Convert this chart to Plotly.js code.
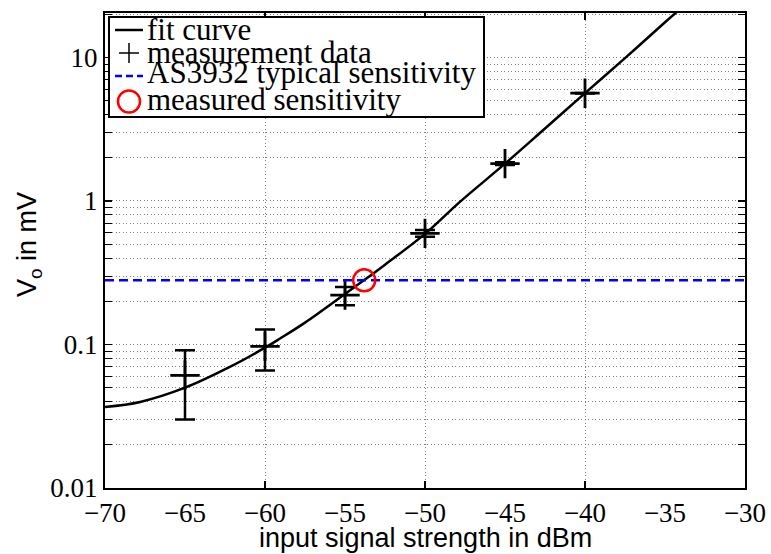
<!DOCTYPE html>
<html>
<head>
<meta charset="utf-8">
<script src="https://cdn.plot.ly/plotly-3.0.1.min.js"></script>
<style>html,body{margin:0;padding:0;background:#fff;}#chart{width:771px;height:554px;}</style>
</head>
<body>
<div id="chart"></div>
<script>
// ---- data ----
const fitX = [-70, -67.8, -65, -62.2, -60, -59.06, -57.5, -55, -53.8, -52.5, -50, -47.8, -45, -42.5, -40, -37.5, -35, -34];
const fitY = [0.0367, 0.0398, 0.050, 0.0698, 0.095, 0.110, 0.142, 0.225, 0.281, 0.36, 0.59, 0.99, 1.82, 3.2, 5.64, 9.9, 17.6, 22];

const measX  = [-65, -60, -55, -50, -45, -40];
const measY  = [0.061, 0.097, 0.221, 0.595, 1.82, 5.64];
const measHi = [0.091, 0.127, 0.252, 0.628, 1.86, 5.66];
const measLo = [0.030, 0.066, 0.188, 0.563, 1.78, 5.62];

const typicalSens = 0.28;
const typicalX = [-70, -30];
const sensX = [-53.8];
const sensY = [0.28];

const xLabelVals = [-70, -65, -60, -55, -50, -45, -40, -35, -30];
const xGridVals = [-70, -60, -50, -40, -30];
const yTickVals = [0.01, 0.1, 1, 10];
const yTickText = ['0.01', '0.1', '1', '10'];

const legendLabels = ['fit curve', 'measurement data', 'AS3932 typical sensitivity', 'measured sensitivity'];

// ---- helpers (layout only) ----
const L = 105, R = 745, T = 13, B = 488;
const W = 771, H = 554;
const px = x => (x - L) / (R - L);
const py = y => (B - y) / (B - T);

const yMinor = [];
[0.01, 0.1, 1, 10].forEach(d => { for (let k = 2; k <= 9; k++) yMinor.push(d * k); });

const traces = [
  { x: fitX, y: fitY, type: 'scatter', mode: 'lines', line: { color: '#000', width: 2.5, shape: 'spline', smoothing: 1 }, hoverinfo: 'skip', xaxis: 'x', yaxis: 'y' },
  { x: measX, y: measY, type: 'scatter', mode: 'markers',
    marker: { symbol: 'cross-thin', size: 21, color: '#000', line: { color: '#000', width: 2.8 } },
    error_y: { type: 'data', symmetric: false,
      array: measHi.map((v, i) => v - measY[i]),
      arrayminus: measLo.map((v, i) => measY[i] - v),
      color: '#000', thickness: 2.5, width: 10 },
    xaxis: 'x', yaxis: 'y' },
  { x: typicalX, y: typicalX.map(() => typicalSens), type: 'scatter', mode: 'lines',
    line: { color: '#0000ff', width: 2.5, dash: '9px,5px' }, xaxis: 'x2', yaxis: 'y' },
  { x: sensX, y: sensY, type: 'scatter', mode: 'markers',
    marker: { symbol: 'circle-open', size: 22, color: '#ff0000', line: { color: '#ff0000', width: 2.5 } },
    xaxis: 'x2', yaxis: 'y' }
];

const serif = 'Liberation Serif, DejaVu Serif, serif';
const sans = 'Liberation Sans, Arial, sans-serif';

const shapes = [
  { type: 'rect', xref: 'paper', yref: 'paper', x0: px(109), x1: px(484), y0: py(117), y1: py(17),
    fillcolor: '#fff', line: { color: '#000', width: 2 }, layer: 'above' },
  { type: 'line', xref: 'paper', yref: 'paper', x0: px(115), x1: px(143), y0: py(30), y1: py(30),
    line: { color: '#000', width: 2.5 }, layer: 'above' },
  { type: 'line', xref: 'paper', yref: 'paper', x0: px(119), x1: px(139), y0: py(53), y1: py(53),
    line: { color: '#000', width: 1.5 }, layer: 'above' },
  { type: 'line', xref: 'paper', yref: 'paper', x0: px(129), x1: px(129), y0: py(43), y1: py(63),
    line: { color: '#000', width: 1.5 }, layer: 'above' },
  { type: 'line', xref: 'paper', yref: 'paper', x0: px(115), x1: px(143), y0: py(76), y1: py(76),
    line: { color: '#0000ff', width: 2.5, dash: '7px,4px' }, layer: 'above' },
  { type: 'circle', xref: 'paper', yref: 'paper', x0: px(118), x1: px(140), y0: py(112.5), y1: py(90.5),
    line: { color: '#ff0000', width: 2.5 }, layer: 'above' }
];

const rowY = [30, 52, 73, 99];
const annotations = legendLabels.map((t, i) => ({
  text: t, xref: 'paper', yref: 'paper', x: px(145), y: py(rowY[i]),
  xanchor: 'left', yanchor: 'middle', showarrow: false,
  font: { family: serif, size: 31, color: '#000' }
}));
annotations.push({
  text: 'input signal strength in dBm', xref: 'paper', yref: 'paper',
  x: px(425), y: py(538), xanchor: 'center', yanchor: 'middle', showarrow: false,
  font: { family: sans, size: 27, color: '#000' }
});
annotations.push({
  text: 'V<sub>o</sub> in mV', xref: 'paper', yref: 'paper',
  x: px(29), y: py(245), xanchor: 'center', yanchor: 'middle', showarrow: false, textangle: -90,
  font: { family: sans, size: 27, color: '#000' }
});

const gridCol = '#808080';
const gridDash = '1px,2.5px';

const layout = {
  width: W, height: H,
  margin: { l: L, r: W - R, t: T, b: H - B, pad: 0 },
  paper_bgcolor: '#fff', plot_bgcolor: '#fff',
  showlegend: false,
  xaxis: {
    range: [-70, -30], tickmode: 'array', tickvals: xLabelVals,
    ticktext: xLabelVals.map(v => (v < 0 ? '\u2212' + Math.abs(v) : String(v))),
    ticks: '', showgrid: false, zeroline: false,
    showline: true, linecolor: '#000', linewidth: 2, mirror: true,
    tickfont: { family: serif, size: 27, color: '#000' }
  },
  xaxis2: {
    overlaying: 'x', anchor: 'y', side: 'bottom', range: [-70, -30],
    tickmode: 'array', tickvals: xGridVals, showticklabels: false,
    ticks: 'inside', ticklen: 7, tickwidth: 1.5, tickcolor: '#000', mirror: 'allticks',
    showline: true, linecolor: '#000', linewidth: 2, zeroline: false,
    showgrid: true, gridcolor: gridCol, gridwidth: 1, griddash: gridDash
  },
  yaxis: {
    type: 'log', range: [-2, 1.31], tickmode: 'array', tickvals: yTickVals, ticktext: yTickText,
    ticks: 'inside', ticklen: 7, tickwidth: 1.5, tickcolor: '#000', mirror: 'allticks',
    showline: true, linecolor: '#000', linewidth: 2, zeroline: false,
    showgrid: true, gridcolor: gridCol, gridwidth: 1, griddash: gridDash,
    tickfont: { family: serif, size: 27, color: '#000' },
    minor: { tickmode: 'array', tickvals: yMinor, ticks: 'inside', ticklen: 4, tickwidth: 1, tickcolor: '#000',
      showgrid: true, gridcolor: gridCol, gridwidth: 1, griddash: gridDash }
  },
  shapes: shapes,
  annotations: annotations
};

Plotly.newPlot('chart', traces, layout, { staticPlot: true, displayModeBar: false });
</script>
</body>
</html>
